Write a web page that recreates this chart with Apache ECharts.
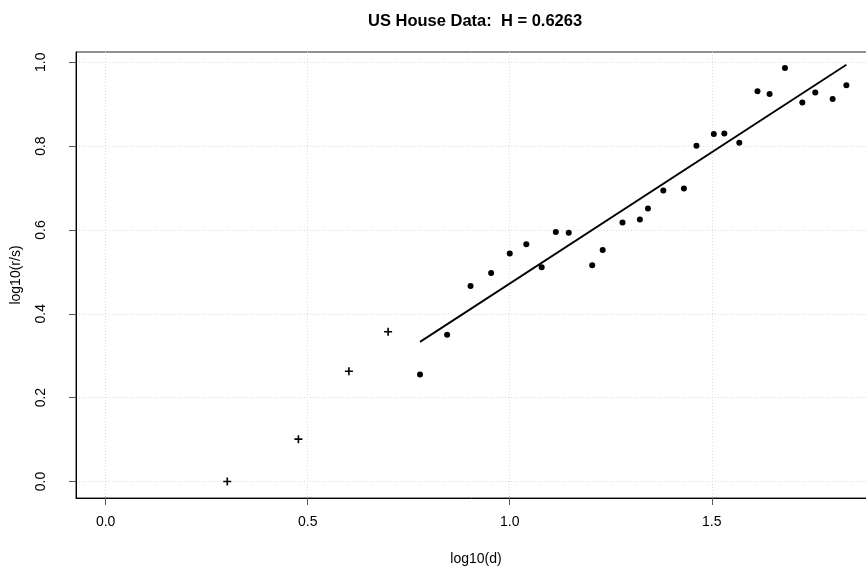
<!DOCTYPE html>
<html><head><meta charset="utf-8">
<script src="https://cdn.jsdelivr.net/npm/echarts@6/dist/echarts.min.js"></script>
<style>html,body{margin:0;padding:0;background:#fff}#c{width:866px;height:566px}</style>
</head><body><div id="c"></div><script>
const titleText = 'US House Data:  H = 0.6263';
const xName = 'log10(d)';
const yName = 'log10(r/s)';
const crossX = [0.301, 0.477, 0.602, 0.699];
const crossY = [0.000, 0.101, 0.263, 0.357];
const dotX = [0.778,0.845,0.903,0.954,1.000,1.041,1.079,1.114,1.146,1.204,1.230,1.279,1.322,1.342,1.380,1.431,1.462,1.505,1.531,1.568,1.613,1.643,1.681,1.724,1.756,1.799,1.833];
const dotY = [0.255,0.350,0.466,0.497,0.544,0.566,0.511,0.595,0.593,0.516,0.552,0.618,0.625,0.651,0.694,0.699,0.801,0.829,0.830,0.808,0.931,0.924,0.986,0.904,0.928,0.912,0.945];
const fitX = [0.778, 1.833];
const fitY = [0.333, 0.994];
const xTicks = [0, 0.5, 1.0, 1.5];
const yTicks = [0, 0.2, 0.4, 0.6, 0.8, 1.0];

const pair = (xs, ys) => xs.map((x, i) => [x, ys[i]]);
const font = 'Liberation Sans, Arial, Helvetica, sans-serif';
const chart = echarts.init(document.getElementById('c'), null, {renderer: 'canvas'});
const gridStyle = {show: true, lineStyle: {color: '#dcdcdc', type: [1, 2], width: 1}};
chart.setOption({
  animation: false,
  backgroundColor: '#fff',
  title: {
    text: titleText, left: 368, top: 13, padding: 0,
    textStyle: {fontFamily: font, fontSize: 16.5, fontWeight: 'bold', color: '#000'}
  },
  grid: {left: 76, top: 52, width: 800, height: 446, outerBoundsMode: 'none', containLabel: false,
         show: true, borderColor: '#222', borderWidth: 1, backgroundColor: 'transparent'},
  xAxis: {
    type: 'value', min: -0.0733, max: 1.9063,
    name: xName, nameLocation: 'middle', nameGap: 54,
    nameTextStyle: {fontFamily: font, fontSize: 14, color: '#000'},
    axisLine: {show: true, onZero: false, lineStyle: {color: '#000', width: 1}},
    axisTick: {show: true, length: 7, customValues: xTicks, lineStyle: {color: '#555'}},
    axisLabel: {customValues: xTicks, margin: 17, fontFamily: font, fontSize: 14, color: '#000', formatter: v => v.toFixed(1)},
    splitLine: gridStyle
  },
  yAxis: {
    type: 'value', min: -0.0394, max: 1.0244,
    name: yName, nameLocation: 'middle', nameGap: 53, nameRotate: 90,
    nameTextStyle: {fontFamily: font, fontSize: 14, color: '#000'},
    axisLine: {show: true, onZero: false, lineStyle: {color: '#000', width: 1}},
    axisTick: {show: true, length: 7, customValues: yTicks, lineStyle: {color: '#555'}},
    axisLabel: {customValues: yTicks, rotate: 90, margin: 28, fontFamily: font, fontSize: 14, color: '#000', formatter: v => v.toFixed(1)},
    splitLine: gridStyle
  },
  series: [
    {
      type: 'scatter', data: pair(crossX, crossY), symbolSize: 8,
      symbol: 'path://M4,0h2v4h4v2h-4v4h-2v-4h-4v-2h4z',
      itemStyle: {color: '#000', opacity: 1}
    },
    {
      type: 'scatter', data: pair(dotX, dotY), symbolSize: 6, symbol: 'circle',
      itemStyle: {color: '#000', opacity: 1}
    },
    {
      type: 'line', data: pair(fitX, fitY), showSymbol: false, symbol: 'none',
      lineStyle: {color: '#000', width: 1.8}
    }
  ]
});
</script></body></html>
